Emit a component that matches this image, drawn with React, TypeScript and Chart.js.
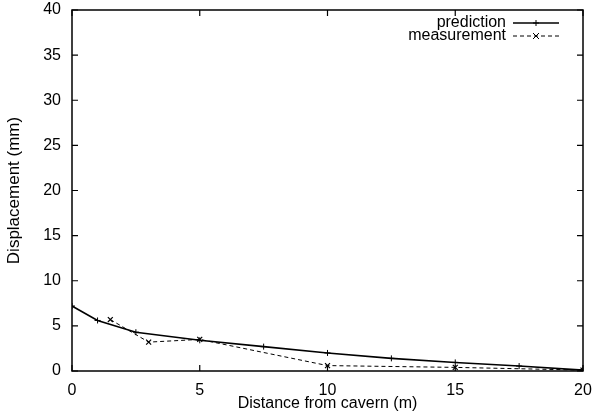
import React, { useEffect, useRef } from "react";
import { Chart, registerables } from "chart.js";

Chart.register(...registerables);

const predictionX = [0, 1, 2.5, 5, 7.5, 10, 12.5, 15, 17.5, 20];
const predictionY = [7.2, 5.6, 4.3, 3.4, 2.7, 2.0, 1.4, 0.95, 0.55, 0.1];
const measurementX = [1.5, 3, 5, 10, 15, 20];
const measurementY = [5.7, 3.2, 3.5, 0.6, 0.4, 0.1];
const xTicks = [0, 5, 10, 15, 20];
const yTicks = [0, 5, 10, 15, 20, 25, 30, 35, 40];
const seriesNames = ["prediction", "measurement"];

const FONT = "'Liberation Sans', Arial, Helvetica, sans-serif";

const boxPlugin = {
  id: "gnuplotBox",
  afterDraw(chart: any) {
    const { ctx, chartArea } = chart;
    const { left, right, top, bottom } = chartArea;
    const xs = chart.scales.x;
    const ys = chart.scales.y;
    ctx.save();
    ctx.strokeStyle = "#000";
    ctx.lineWidth = 1.5;
    ctx.strokeRect(left, top, right - left, bottom - top);
    ctx.lineWidth = 1.2;
    const tl = 6;
    ctx.beginPath();
    xTicks.forEach((v) => {
      const px = xs.getPixelForValue(v);
      ctx.moveTo(px, bottom);
      ctx.lineTo(px, bottom - tl);
      ctx.moveTo(px, top);
      ctx.lineTo(px, top + tl);
    });
    yTicks.forEach((v) => {
      const py = ys.getPixelForValue(v);
      ctx.moveTo(left, py);
      ctx.lineTo(left + tl, py);
      ctx.moveTo(right, py);
      ctx.lineTo(right - tl, py);
    });
    ctx.stroke();

    // legend
    ctx.font = `16px ${FONT}`;
    ctx.fillStyle = "#000";
    ctx.textAlign = "right";
    ctx.textBaseline = "middle";
    const textRight = right - 77;
    const lx0 = right - 70;
    const lx1 = right - 24;
    const rows = [top + 13, top + 26];
    chart.data.datasets.forEach((ds: any, i: number) => {
      const y = rows[i];
      ctx.fillText(seriesNames[i], textRight, y);
      ctx.save();
      ctx.strokeStyle = "#000";
      ctx.lineWidth = ds.borderWidth;
      ctx.setLineDash(ds.borderDash || []);
      ctx.beginPath();
      ctx.moveTo(lx0, y);
      ctx.lineTo(lx1, y);
      ctx.stroke();
      ctx.setLineDash([]);
      ctx.lineWidth = 1;
      const mx = (lx0 + lx1) / 2;
      const r = 3;
      ctx.beginPath();
      if (ds.pointStyle === "cross") {
        ctx.moveTo(mx - r, y);
        ctx.lineTo(mx + r, y);
        ctx.moveTo(mx, y - r);
        ctx.lineTo(mx, y + r);
      } else {
        ctx.moveTo(mx - r, y - r);
        ctx.lineTo(mx + r, y + r);
        ctx.moveTo(mx - r, y + r);
        ctx.lineTo(mx + r, y - r);
      }
      ctx.stroke();
      ctx.restore();
    });
    ctx.restore();
  },
};

export default function App() {
  const ref = useRef<HTMLCanvasElement | null>(null);
  useEffect(() => {
    document.body.style.margin = "0";
    const canvas = ref.current!;
    const chart = new Chart(canvas, {
      type: "line",
      data: {
        datasets: [
          {
            label: seriesNames[0],
            data: predictionX.map((x, i) => ({ x, y: predictionY[i] })),
            borderColor: "#000",
            backgroundColor: "#000",
            borderWidth: 1.6,
            pointStyle: "cross",
            pointRadius: 3,
            pointBorderWidth: 1,
            pointBorderColor: "#000",
            tension: 0,
            fill: false,
          },
          {
            label: seriesNames[1],
            data: measurementX.map((x, i) => ({ x, y: measurementY[i] })),
            borderColor: "#000",
            backgroundColor: "#000",
            borderWidth: 1,
            borderDash: [4, 3],
            pointStyle: "crossRot",
            pointRadius: 3.5,
            pointBorderWidth: 1.2,
            pointBorderColor: "#000",
            tension: 0,
            fill: false,
          },
        ],
      },
      options: {
        animation: false,
        responsive: false,
        devicePixelRatio: 1,
        layout: { padding: { top: 10, right: 18, left: 0, bottom: 0 } },
        plugins: {
          legend: { display: false },
          tooltip: { enabled: false },
        },
        scales: {
          x: {
            type: "linear",
            min: 0,
            max: 20,
            afterBuildTicks: (s: any) => {
              s.ticks = xTicks.map((v) => ({ value: v }));
            },
            afterFit: (s: any) => {
              s.height = 45;
              s.paddingLeft = 0;
              s.paddingRight = 0;
            },
            grid: { display: false, drawTicks: false },
            border: { display: false },
            ticks: {
              color: "#000",
              font: { family: FONT, size: 16 },
              padding: 10,
              maxRotation: 0,
            },
            title: {
              display: true,
              text: "Distance from cavern (m)",
              color: "#000",
              font: { family: FONT, size: 16 },
              padding: { top: 0, bottom: 3 },
            },
          },
          y: {
            type: "linear",
            min: 0,
            max: 40,
            afterBuildTicks: (s: any) => {
              s.ticks = yTicks.map((v) => ({ value: v }));
            },
            afterFit: (s: any) => {
              s.width = 72;
              s.paddingTop = 0;
              s.paddingBottom = 0;
            },
            grid: { display: false, drawTicks: false },
            border: { display: false },
            ticks: {
              color: "#000",
              font: { family: FONT, size: 16 },
              padding: 11,
            },
            title: {
              display: true,
              text: "Displacement (mm)",
              color: "#000",
              font: { family: FONT, size: 17 },
              padding: { top: 4, bottom: 0 },
            },
          },
        },
      },
      plugins: [boxPlugin],
    });
    return () => chart.destroy();
  }, []);
  return (
    <div style={{ width: 601, height: 416, background: "#fff" }}>
      <canvas ref={ref} width={601} height={416} style={{ display: "block" }} />
    </div>
  );
}
